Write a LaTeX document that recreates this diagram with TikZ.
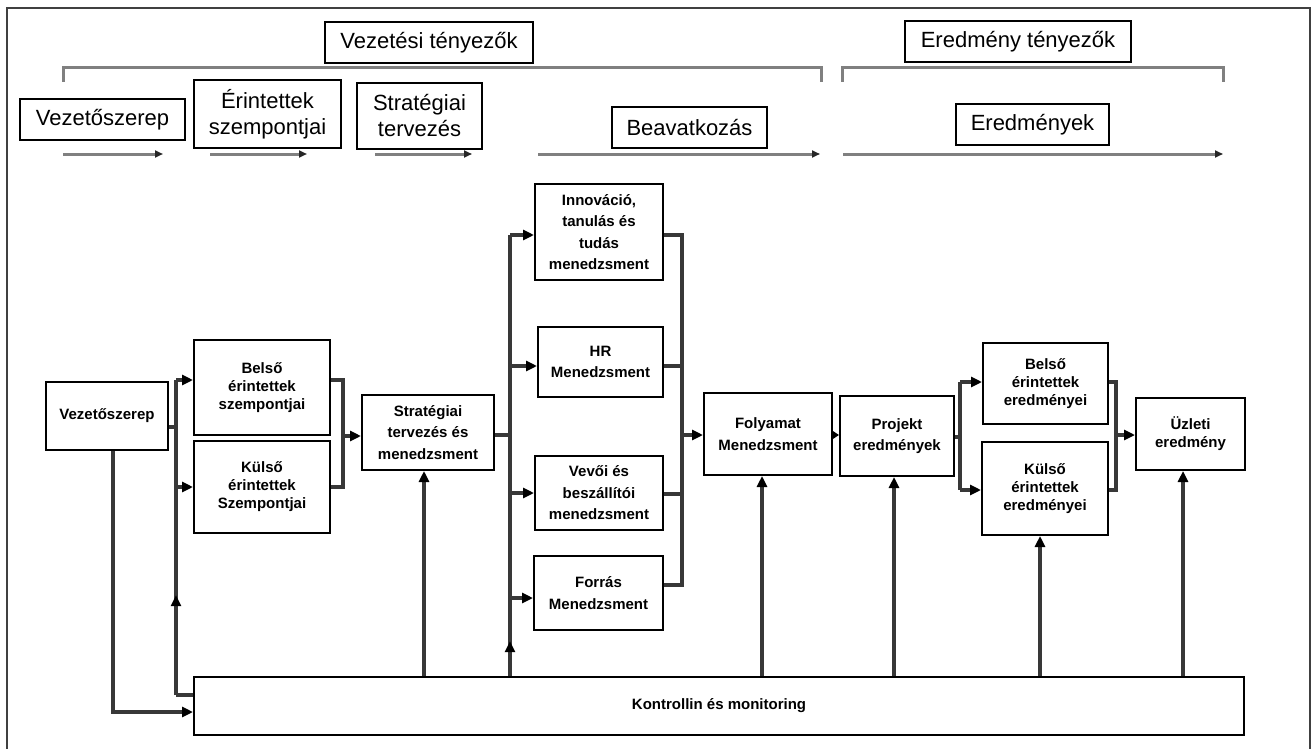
\documentclass[tikz,border=0pt]{standalone}
\usepackage{fontspec}
\setmainfont{Liberation Sans}
\usetikzlibrary{arrows.meta,decorations.markings}
\tikzset{
  hbox/.style={draw=black, line width=1.5pt, font=\fontsize{22}{26}\selectfont, align=center, inner sep=0pt, fill=white},
  mbox/.style={draw=black, line width=2pt, font=\bfseries\fontsize{15}{18}\selectfont, align=center, inner sep=0pt, fill=white},
  mboxw/.style={mbox, font=\bfseries\fontsize{15}{21.5}\selectfont},
  conn/.style={draw=black!78, line width=3.3pt},
  arr/.style={conn, -{Triangle[length=11pt,width=10pt,color=black]}},
  arrs/.style={conn, -{Triangle[length=8pt,width=10pt,color=black]}},
  hline/.style={draw=black!50, line width=3pt},
  harr/.style={hline, -{Triangle[length=8pt,width=7pt,color=black!85]}},
  midarr/.style={postaction={decorate}, decoration={markings, mark=at position #1 with {\arrow{Triangle[length=11pt,width=10pt,color=black]}}}},
}
\begin{document}
\begin{tikzpicture}[x=1pt,y=-1pt]
\useasboundingbox (0,0) rectangle (1314,749);
\fill[white] (0,0) rectangle (1314,749);
% outer frame
\draw[draw=black!75, line width=1.5pt] (7,749) -- (7,8) -- (1310,8) -- (1310,749);

% ---------- header ----------
\node[hbox, minimum width=208, minimum height=41] (vt) at (429,42.5) {Vezetési tényezők};
\node[hbox, minimum width=226, minimum height=41] (et) at (1018,41.5) {Eredmény tényezők};
\draw[hline] (63,82) -- (63,68) -- (821,68) -- (821,82);
\draw[hline] (842,82) -- (842,68) -- (1223,68) -- (1223,82);

\node[hbox, minimum width=165, minimum height=41] (h1) at (102.5,119.5) {Vezetőszerep};
\node[hbox, minimum width=147, minimum height=68] (h2) at (267.5,114) {Érintettek\\szempontjai};
\node[hbox, minimum width=125, minimum height=66] (h3) at (419.5,116) {Stratégiai\\tervezés};
\node[hbox, minimum width=155, minimum height=41] (h4) at (689.5,127.5) {Beavatkozás};
\node[hbox, minimum width=153, minimum height=41] (h5) at (1032.5,124.5) {Eredmények};

\draw[harr] (63,154) -- (163,154);
\draw[harr] (210,154) -- (307,154);
\draw[harr] (375,154) -- (472,154);
\draw[harr] (538,154) -- (820,154);
\draw[harr] (843,154) -- (1223,154);

% ---------- main boxes ----------
\node[mbox, minimum width=122, minimum height=68] (vz) at (107,416) {Vezetőszerep};
\node[mbox, minimum width=136, minimum height=95] (bs) at (262,387.5) {Belső\\érintettek\\szempontjai};
\node[mbox, minimum width=136, minimum height=92] (ks) at (262,487) {Külső\\érintettek\\Szempontjai};
\node[mboxw, minimum width=132, minimum height=75] (st) at (428,432.5) {Stratégiai\\tervezés és\\menedzsment};
\node[mboxw, minimum width=128, minimum height=96] (in) at (599,232) {Innováció,\\tanulás és\\tudás\\menedzsment};
\node[mboxw, minimum width=125, minimum height=70] (hr) at (600.5,362) {HR\\Menedzsment};
\node[mboxw, minimum width=128, minimum height=74] (vb) at (599,493) {Vevői és\\beszállítói\\menedzsment};
\node[mboxw, minimum width=129, minimum height=74] (fr) at (598.5,593) {Forrás\\Menedzsment};
\node[mboxw, minimum width=128, minimum height=82] (fo) at (768,434) {Folyamat\\Menedzsment};
\node[mboxw, minimum width=114, minimum height=80] (pr) at (897,436) {Projekt\\eredmények};
\node[mbox, minimum width=125, minimum height=81] (be) at (1045.5,383.5) {Belső\\érintettek\\eredményei};
\node[mbox, minimum width=126, minimum height=93] (ke) at (1045,488.5) {Külső\\érintettek\\eredményei};
\node[mbox, minimum width=109, minimum height=72] (uz) at (1190.5,434) {Üzleti\\eredmény};
\node[mbox, minimum width=1050, minimum height=58] (ko) at (719,706) {Kontrollin és monitoring};

% ---------- connectors ----------
\coordinate (b1bot) at (176,695);
\coordinate (b1top) at (176,380);
\coordinate (b1k) at (176,487);
\draw[conn] (ko.west |- b1bot) -- (b1bot);
\draw[conn, midarr=0.317] (b1bot) -- (b1top);
\draw[arr] (b1top) -- (bs.west |- b1top);
\draw[arr] (b1k) -- (ks.west |- b1k);
\draw[conn] (vz.east |- 0,427) -- (176,427);
\draw[arr] (113,0 |- vz.south) -- (113,712) -- (ko.west |- 0,712);

\coordinate (m1) at (343,436);
\draw[conn] (bs.east |- 0,380) -- (343,380) -- (343,487) -- (ks.east |- 0,487);
\draw[arr] (m1) -- (st.west |- m1);
\draw[arr] (424,0 |- ko.north) -- (424,0 |- st.south);

\coordinate (b2top) at (510,235);
\draw[conn] (st.east |- 0,435) -- (510,435);
\draw[conn, midarr=0.079] (510,0 |- ko.north) -- (b2top);
\draw[arr] (b2top) -- (in.west |- b2top);
\draw[arr] (510,366) -- (hr.west |- 0,366);
\draw[arr] (510,493) -- (vb.west |- 0,493);
\draw[arr] (510,598) -- (fr.west |- 0,598);

\coordinate (m2) at (682,435);
\draw[conn] (in.east |- 0,235) -- (682,235) -- (682,585) -- (fr.east |- 0,585);
\draw[conn] (hr.east |- 0,366) -- (682,366);
\draw[conn] (vb.east |- 0,494) -- (682,494);
\draw[arr] (m2) -- (fo.west |- m2);
\draw[arrs] (fo.east |- 0,435) -- (pr.west |- 0,435);

\coordinate (b3) at (960,437);
\draw[conn] (pr.east |- b3) -- (b3);
\draw[conn] (960,382) -- (960,490);
\draw[arr] (960,382) -- (be.west |- 0,382);
\draw[arr] (960,490) -- (ke.west |- 0,490);

\coordinate (m3) at (1116,435);
\draw[conn] (be.east |- 0,382) -- (1116,382) -- (1116,490) -- (ke.east |- 0,490);
\draw[arr] (m3) -- (uz.west |- m3);

\draw[arr] (762,0 |- ko.north) -- (762,0 |- fo.south);
\draw[arr] (894,0 |- ko.north) -- (894,0 |- pr.south);
\draw[arr] (1040,0 |- ko.north) -- (1040,0 |- ke.south);
\draw[arr] (1183,0 |- ko.north) -- (1183,0 |- uz.south);
\end{tikzpicture}
\end{document}
